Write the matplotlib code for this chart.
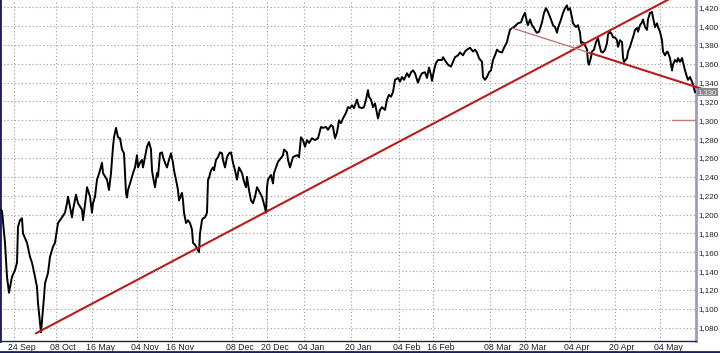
import matplotlib.pyplot as plt

# bar index (one bar per pixel column) and close price
bar = [0, 2, 5, 7, 9, 12, 15, 17, 18, 20, 22, 23, 27, 30, 32, 33, 35, 37, 38, 40,
       41, 43, 44, 45, 48, 50, 53, 55, 57, 58, 62, 65, 67, 68, 70, 72, 73, 76, 78, 82,
       83, 86, 87, 90, 92, 93, 95, 97, 98, 100, 102, 103, 107, 109, 111, 113, 114, 116, 118, 120,
       122, 124, 125, 126, 127, 128, 130, 132, 133, 135, 137, 138, 140, 142, 143, 145, 147, 149, 151, 152,
       153, 155, 157, 158, 160, 162, 163, 165, 167, 169, 171, 173, 174, 176, 178, 179, 182, 183, 184, 186,
       188, 190, 192, 193, 195, 197, 199, 200, 202, 203, 205, 207, 208, 209, 211, 213, 214, 216, 218, 220,
       222, 223, 225, 227, 229, 231, 233, 235, 237, 239, 242, 244, 246, 247, 249, 251, 253, 255, 257, 260,
       262, 263, 265, 266, 267, 268, 271, 273, 274, 276, 278, 281, 283, 284, 287, 288, 290, 293, 297, 299,
       301, 303, 305, 307, 309, 312, 315, 318, 321, 323, 326, 328, 331, 333, 335, 337, 339, 341, 343, 346,
       348, 350, 352, 354, 357, 359, 362, 364, 366, 368, 369, 371, 373, 375, 378, 380, 382, 385, 387, 389,
       391, 393, 395, 398, 400, 402, 404, 407, 409, 411, 413, 415, 417, 418, 420, 422, 425, 427, 429, 431,
       432, 434, 436, 438, 442, 443, 446, 448, 451, 453, 455, 458, 460, 463, 465, 467, 470, 473, 475, 477,
       479, 482, 483, 485, 487, 489, 491, 493, 495, 497, 499, 502, 504, 507, 508, 510, 512, 514, 516, 518,
       521, 523, 525, 527, 528, 530, 532, 534, 536, 537, 539, 542, 544, 546, 548, 551, 553, 555, 557, 558,
       561, 563, 565, 567, 568, 570, 572, 573, 576, 578, 580, 581, 582, 584, 587, 588, 589, 591, 592, 594,
       596, 598, 599, 601, 603, 605, 607, 608, 610, 612, 613, 615, 617, 618, 620, 622, 623, 624, 627, 628,
       630, 632, 633, 635, 637, 638, 640, 642, 643, 645, 647, 648, 650, 652, 653, 655, 657, 658, 660, 662,
       663, 665, 667, 668, 670, 672, 673, 675, 677, 678, 680, 682, 683, 685, 687, 688, 690, 692, 693, 695]
close = [1205, 1204, 1170, 1134, 1117, 1134, 1141, 1149, 1187, 1194, 1196, 1180, 1170, 1155, 1149, 1144, 1134, 1123, 1106, 1085,
         1075, 1099, 1112, 1127, 1138, 1155, 1166, 1170, 1184, 1191, 1197, 1202, 1212, 1219, 1208, 1197, 1205, 1221, 1212, 1205,
         1194, 1219, 1229, 1219, 1202, 1212, 1219, 1237, 1240, 1247, 1255, 1244, 1237, 1226, 1244, 1272, 1282, 1292, 1282, 1281,
         1269, 1265, 1244, 1223, 1218, 1226, 1233, 1240, 1244, 1250, 1263, 1250, 1255, 1258, 1250, 1261, 1272, 1277, 1269, 1247,
         1240, 1229, 1244, 1240, 1265, 1266, 1261, 1255, 1250, 1258, 1265, 1255, 1247, 1237, 1226, 1215, 1223, 1215, 1202, 1191,
         1194, 1191, 1184, 1170, 1168, 1164, 1160, 1180, 1194, 1196, 1197, 1202, 1237, 1239, 1247, 1250, 1247, 1258, 1261, 1266,
         1265, 1258, 1250, 1261, 1265, 1266, 1255, 1247, 1237, 1250, 1244, 1235, 1229, 1240, 1226, 1215, 1212, 1219, 1229, 1223,
         1219, 1215, 1207, 1202, 1229, 1237, 1242, 1233, 1244, 1250, 1256, 1260, 1263, 1269, 1266, 1258, 1250, 1261, 1263, 1261,
         1282, 1279, 1272, 1279, 1276, 1281, 1279, 1281, 1293, 1292, 1293, 1290, 1295, 1293, 1281, 1287, 1300, 1297, 1302, 1308,
         1314, 1313, 1316, 1313, 1322, 1314, 1313, 1314, 1322, 1332, 1325, 1322, 1314, 1318, 1302, 1311, 1314, 1311, 1322, 1327,
         1325, 1330, 1343, 1345, 1341, 1346, 1343, 1350, 1346, 1351, 1353, 1350, 1343, 1340, 1346, 1350, 1351, 1345, 1356, 1348,
         1342, 1353, 1361, 1364, 1364, 1367, 1362, 1359, 1357, 1362, 1367, 1369, 1372, 1369, 1373, 1375, 1377, 1373, 1375, 1372,
         1366, 1362, 1346, 1343, 1346, 1351, 1353, 1364, 1369, 1375, 1373, 1372, 1377, 1383, 1388, 1396, 1398, 1399, 1401, 1403,
         1404, 1410, 1414, 1404, 1401, 1407, 1401, 1398, 1394, 1393, 1394, 1404, 1414, 1419, 1415, 1407, 1401, 1399, 1393, 1398,
         1407, 1414, 1419, 1422, 1417, 1419, 1409, 1403, 1399, 1401, 1393, 1382, 1383, 1382, 1375, 1362, 1359, 1367, 1373, 1375,
         1383, 1387, 1382, 1373, 1372, 1375, 1382, 1391, 1394, 1391, 1388, 1388, 1385, 1378, 1385, 1383, 1367, 1362, 1366, 1373,
         1378, 1385, 1388, 1396, 1398, 1394, 1401, 1404, 1407, 1399, 1396, 1407, 1414, 1415, 1409, 1399, 1403, 1399, 1394, 1385,
         1373, 1369, 1373, 1372, 1366, 1353, 1359, 1364, 1362, 1366, 1362, 1366, 1362, 1353, 1346, 1343, 1346, 1341, 1338, 1330]

# trend lines (bar index, price)
support_x = [36, 668]
support_y = [1074, 1428]
resist_thin_x = [512, 590]
resist_thin_y = [1398, 1371.5]
resist_x = [590, 712]
resist_y = [1371.5, 1330]
level_x = [672, 695]
level_y = [1300, 1300]
last_price = 1330

date_pos = [14, 56, 92, 137, 172, 232, 267, 304, 351, 399, 433, 490, 525, 570, 615, 660]
date_labels = ["24 Sep", "08 Oct", "16 May", "04 Nov", "16 Nov", "08 Dec", "20 Dec", "04 Jan",
               "20 Jan", "04 Feb", "16 Feb", "08 Mar", "20 Mar", "04 Apr", "20 Apr", "04 May"]
price_ticks = list(range(1080, 1421, 20))

plt.rcParams['font.family'] = ['Liberation Sans', 'DejaVu Sans']

fig = plt.figure(figsize=(7.2, 3.53), dpi=100)
ax = fig.add_axes([0, 12 / 353, 696 / 720, 341 / 353])
ax.set_xlim(0, 696)
ax.set_ylim(1065.8, 1427.7)

ax.set_xticks(date_pos)
ax.set_xticklabels([])
ax.set_yticks(price_ticks)
ax.set_yticklabels(["{:,}".format(v) for v in price_ticks], fontsize=5.8, color="#202020")
ax.yaxis.tick_right()
ax.tick_params(axis="both", length=0)
ax.tick_params(axis="y", pad=1.5)
ax.grid(True, color="#9a9a9a", linestyle=(0, (1, 2.2)), linewidth=0.8)
ax.set_axisbelow(True)

for xp, lab in zip(date_pos, date_labels):
    ax.text(xp - 6, -0.018, lab, transform=ax.get_xaxis_transform(), ha="left", va="center",
            fontsize=6.3, color="#202020")

ax.plot(bar, close, color="black", linewidth=1.4, zorder=3)

red = "#b81c1c"
ax.plot(support_x, support_y, color=red, linewidth=1.5, zorder=4)
ax.plot(resist_thin_x, resist_thin_y, color="#c06a6a", linewidth=0.9, zorder=4)
ax.plot(resist_x, resist_y, color=red, linewidth=1.5, zorder=4, clip_on=False)
ax.plot(level_x, level_y, color="#c07878", linewidth=1.0, zorder=4)

ax.text(1.0 + 1.5 / 696, last_price, "{:,}".format(last_price), transform=ax.get_yaxis_transform(),
        ha="left", va="center", fontsize=5.6, color="#e8e8e8", zorder=6,
        bbox=dict(boxstyle="square,pad=0.12", facecolor="#8a8a8a", edgecolor="none"))

ax.spines["top"].set_visible(False)
ax.spines["left"].set_color("#1c1f5e")
ax.spines["left"].set_linewidth(2)
ax.spines["bottom"].set_color("#1c1f5e")
ax.spines["bottom"].set_linewidth(1)
ax.spines["right"].set_color("#9c9cc0")
ax.spines["right"].set_linewidth(2)

fig.add_artist(plt.Line2D([0, 1], [1 / 353, 1 / 353], color="#1c1f5e", linewidth=2))

fig.savefig("out.png", dpi=100)
